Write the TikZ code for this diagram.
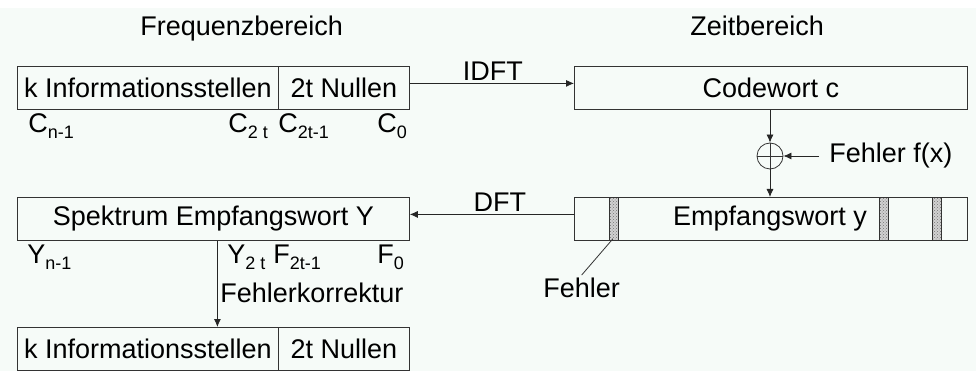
\documentclass[tikz,border=0pt]{standalone}
\usepackage{fontspec}
\setmainfont{Liberation Sans}
\usetikzlibrary{arrows.meta,patterns}
\definecolor{bg}{RGB}{246,251,248}
\newcommand\mysub[1]{\raisebox{-6pt}{\fontsize{18}{18}\selectfont #1}}
\begin{document}
\begin{tikzpicture}[x=1pt,y=-1pt,
  font=\fontsize{27}{30}\selectfont,
  line width=0.8pt,
  box/.style={draw=black!80, minimum height=43pt, inner sep=0pt, anchor=north west},
  strip/.style={draw=black!80, preaction={fill=black!18}, pattern=crosshatch dots, pattern color=black!55, minimum width=9pt, minimum height=43pt, inner sep=0pt, anchor=north west},
  lab/.style={anchor=base west, inner sep=0pt},
  arr/.style={-{Latex[length=8pt,width=7pt]}, draw=black!85}]
\fill[white] (0,0) rectangle (976,371);
\fill[bg] (0,8) rectangle (976,371);
\useasboundingbox (0,0) rectangle (976,371);

% headers
\node[lab] (hf) at (140,36) {Frequenzbereich};
\node[lab] (hz) at (690,36) {Zeitbereich};

% top left
\node[box, minimum width=261pt] (ki1) at (17,66) {k Informationsstellen};
\node[box, minimum width=131pt] (nu1) at (278,66) {2t Nullen};
\node[lab] (c1) at (28,133) {C\mysub{n-1}};
\node[lab] (c2) at (228,133) {C\mysub{2 t}};
\node[lab] (c3) at (278,133) {C\mysub{2t-1}};
\node[lab] (c4) at (377,133) {C\mysub{0}};

% codewort
\node[box, minimum width=393pt] (cw) at (574,66) {Codewort c};
\draw[arr] ([yshift=4.5pt]nu1.east) -- ([yshift=4.5pt]cw.west)
  node[midway, above=2pt, inner sep=0pt, xshift=1pt] (idft) {IDFT};

% adder
\node[circle, draw=black!80, minimum size=26pt, inner sep=0pt] (plus) at (770,156) {};
\draw[black!80] (plus.north) -- (plus.south) (plus.west) -- (plus.east);
\draw[arr] (cw.south -| plus.north) -- (plus.north);
\node[anchor=west, inner xsep=10pt, inner ysep=0pt] (ff) at (819,156) {Fehler f(x)};
\draw[arr] (ff.west) -- (plus.east);

% empfangswort
\node[box, minimum width=393pt] (ew) at (574,197) {};
\node (ewt) at (770,219) {Empfangswort y};
\draw[arr] (plus.south) -- (plus.south |- ew.north);
\node[strip] (s1) at (609,197) {};
\node[strip] (s2) at (879,197) {};
\node[strip] (s3) at (932,197) {};
\node[lab] (fe) at (543,297) {Fehler};
\draw[black!80] ([xshift=-1pt,yshift=2pt]s1.south) -- ([yshift=2pt]fe.north);

% spektrum
\node[box, minimum width=392pt] (sp) at (17,197) {Spektrum Empfangswort Y};
\draw[arr] ([yshift=4.5pt]ew.west) -- ([yshift=4.5pt]sp.east)
  node[midway, above=2pt, inner sep=0pt, xshift=8pt] (dft) {DFT};
\node[lab] (y1) at (27,263) {Y\mysub{n-1}};
\node[lab] (y2) at (227,263) {Y\mysub{2 t}};
\node[lab] (f1) at (273,263) {F\mysub{2t-1}};
\node[lab] (f2) at (377,263) {F\mysub{0}};

% bottom
\node[box, minimum width=261pt] (ki2) at (17,327) {k Informationsstellen};
\node[box, minimum width=131pt] (nu2) at (278,327) {2t Nullen};
\draw[arr] ([xshift=4pt]sp.south) -- ([xshift=4pt]sp.south |- ki2.north);
\node[lab] (fk) at (220,302) {Fehlerkorrektur};
\end{tikzpicture}
\end{document}
